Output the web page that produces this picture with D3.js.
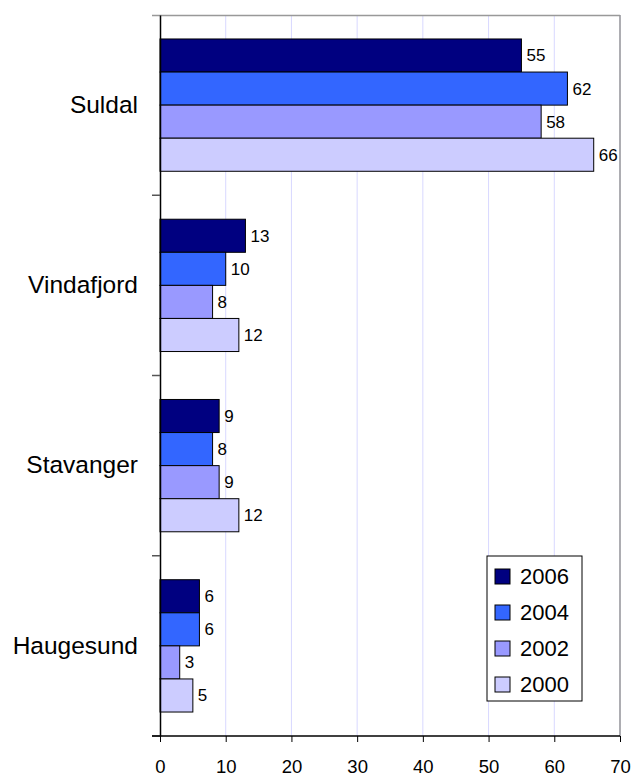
<!DOCTYPE html>
<html>
<head>
<meta charset="utf-8">
<script src="https://cdn.jsdelivr.net/npm/d3@7"></script>
<style>
  body { margin: 0; background: #fff; }
  svg { display: block; font-family: Arial, "Liberation Sans", sans-serif; }
</style>
</head>
<body>
<div id="chart"></div>
<script>
var WIDTH = 634, HEIGHT = 776;

var categories = ['Suldal', 'Vindafjord', 'Stavanger', 'Haugesund'];
var years = ['2006', '2004', '2002', '2000'];
var colors = ['#000080', '#3366ff', '#9999ff', '#ccccff'];
var values2006 = [55, 13, 9, 6];
var values2004 = [62, 10, 8, 6];
var values2002 = [58, 8, 9, 3];
var values2000 = [66, 12, 12, 5];
var xTicks = [0, 10, 20, 30, 40, 50, 60, 70];

var series = [values2006, values2004, values2002, values2000];

var margin = { top: 15, right: 14, bottom: 40, left: 160 };
var w = WIDTH - margin.left - margin.right;
var h = HEIGHT - margin.top - margin.bottom;

var svg = d3.select('#chart').append('svg')
  .attr('width', WIDTH)
  .attr('height', HEIGHT);

var g = svg.append('g')
  .attr('transform', 'translate(' + margin.left + ',' + margin.top + ')');

var x = d3.scaleLinear().domain([0, 70]).range([0, w]);
var y = d3.scaleBand().domain(categories).range([0, h]).paddingInner(0).paddingOuter(0);
var yInner = d3.scaleBand().domain(years)
  .range([y.bandwidth() * 0.133, y.bandwidth() * 0.867]);
var color = d3.scaleOrdinal().domain(years).range(colors);

// gridlines
g.selectAll('line.grid')
  .data(xTicks.slice(1))
  .enter().append('line')
  .attr('class', 'grid')
  .attr('x1', function(d) { return x(d); })
  .attr('x2', function(d) { return x(d); })
  .attr('y1', 0)
  .attr('y2', h)
  .attr('stroke', '#d8d8ff')
  .attr('stroke-width', 1);

// plot area border (top and right)
g.append('line').attr('x1', -8).attr('x2', w).attr('y1', 0.5).attr('y2', 0.5)
  .attr('stroke', '#999').attr('stroke-width', 1.5);
g.append('line').attr('x1', w).attr('x2', w).attr('y1', 0).attr('y2', h)
  .attr('stroke', '#999').attr('stroke-width', 1.5);

// bars
var rows = [];
categories.forEach(function(c, i) {
  years.forEach(function(yr, j) {
    rows.push({ cat: c, year: yr, value: series[j][i] });
  });
});

g.selectAll('rect.bar')
  .data(rows)
  .enter().append('rect')
  .attr('class', 'bar')
  .attr('x', 0)
  .attr('y', function(d) { return y(d.cat) + yInner(d.year); })
  .attr('width', function(d) { return x(d.value); })
  .attr('height', yInner.bandwidth())
  .attr('fill', function(d) { return color(d.year); })
  .attr('stroke', '#000')
  .attr('stroke-width', 1);

g.selectAll('text.val')
  .data(rows)
  .enter().append('text')
  .attr('class', 'val')
  .attr('x', function(d) { return x(d.value) + 5; })
  .attr('y', function(d) { return y(d.cat) + yInner(d.year) + yInner.bandwidth() / 2; })
  .attr('dy', '0.35em')
  .attr('font-size', '17px')
  .text(function(d) { return d.value; });

// y axis
var yAxis = g.append('g')
  .call(d3.axisLeft(y).tickSize(0).tickPadding(22));
yAxis.select('.domain').attr('stroke', '#000').attr('stroke-width', 1.5);
yAxis.selectAll('text').attr('font-size', '24.5px').attr('fill', '#000')
  .attr('font-family', 'Arial, "Liberation Sans", sans-serif');

// category separators on y axis
g.selectAll('line.ytick')
  .data(categories.slice(1).concat(['_end']))
  .enter().append('line')
  .attr('class', 'ytick')
  .attr('x1', -8).attr('x2', 0)
  .attr('y1', function(d) { return d === '_end' ? h : y(d); })
  .attr('y2', function(d) { return d === '_end' ? h : y(d); })
  .attr('stroke', '#555').attr('stroke-width', 1.5);

// x axis
var xAxis = g.append('g')
  .attr('transform', 'translate(0,' + h + ')')
  .call(d3.axisBottom(x).tickValues(xTicks).tickSize(6).tickPadding(18).tickSizeOuter(0));
xAxis.select('.domain').attr('stroke', '#000').attr('stroke-width', 1.5)
  .attr('d', 'M-8,0H' + w);
xAxis.selectAll('.tick line').attr('stroke', '#000');
xAxis.selectAll('text').attr('font-size', '18.5px').attr('fill', '#000')
  .attr('font-family', 'Arial, "Liberation Sans", sans-serif');

// legend
var legend = svg.append('g').attr('transform', 'translate(487,556)');
legend.append('rect')
  .attr('width', 95).attr('height', 145)
  .attr('fill', '#fff').attr('stroke', '#000').attr('stroke-width', 1);
var items = legend.selectAll('g.item')
  .data(years)
  .enter().append('g')
  .attr('class', 'item')
  .attr('transform', function(d, i) { return 'translate(8,' + (13 + i * 36) + ')'; });
items.append('rect')
  .attr('width', 15).attr('height', 15)
  .attr('fill', function(d) { return color(d); })
  .attr('stroke', '#000').attr('stroke-width', 1);
items.append('text')
  .attr('x', 25).attr('y', 7.5).attr('dy', '0.36em')
  .attr('font-size', '22px')
  .text(function(d) { return d; });
</script>
</body>
</html>
